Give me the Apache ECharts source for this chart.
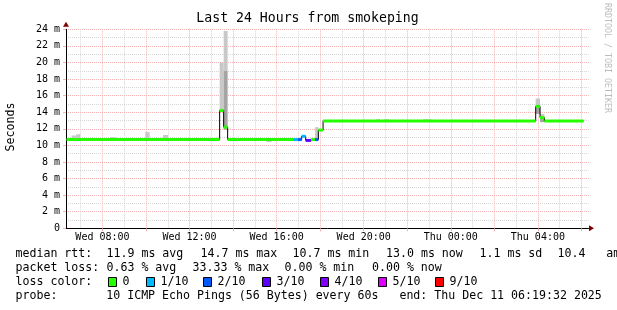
<!DOCTYPE html>
<html>
<head>
<meta charset="utf-8">
<script src="https://cdn.jsdelivr.net/npm/echarts@6/dist/echarts.min.js"></script>
<style>html,body{margin:0;padding:0;background:#fff}#c{width:617px;height:310px}</style>
</head>
<body>
<div id="c"></div>
<script>
// ---------------- data ----------------
const titleText = 'Last 24 Hours from smokeping';
const yAxisTitle = 'Seconds';
const watermark = 'RRDTOOL / TOBI OETIKER';
const axisStart = 'Wed 06:19:32';
const axisEnd = 'Thu 06:19:32';
const xLabelTimes = ['Wed 08:00', 'Wed 12:00', 'Wed 16:00', 'Wed 20:00', 'Thu 00:00', 'Thu 04:00'];
const yTickValues = [0, 2, 4, 6, 8, 10, 12, 14, 16, 18, 20, 22, 24];
const yTickLabels = ['0', '2 m', '4 m', '6 m', '8 m', '10 m', '12 m', '14 m', '16 m', '18 m', '20 m', '22 m', '24 m'];

// median rtt (ms), step segments: start time, value, loss bucket index
const medianStart = ['Wed 06:21', 'Wed 13:23', 'Wed 13:34', 'Wed 13:45', 'Wed 16:46', 'Wed 16:59', 'Wed 17:09', 'Wed 17:20', 'Wed 17:35', 'Wed 17:46', 'Wed 17:55', 'Wed 18:08', 'Thu 03:54', 'Thu 04:06', 'Thu 04:18'];
const medianEnd = 'Thu 06:06';
const medianValue = [10.7, 14.2, 12.2, 10.7, 10.7, 10.7, 11.1, 10.6, 10.7, 10.7, 11.85, 12.95, 14.7, 13.35, 12.95];
const medianLoss = [0, 0, 0, 0, 1, 2, 1, 3, 0, 2, 0, 0, 0, 0, 0];

// smoke (ping spread) blocks
const smokeStart = ['Wed 06:35', 'Wed 06:48', 'Wed 08:21', 'Wed 09:58', 'Wed 10:47', 'Wed 13:23', 'Wed 13:34', 'Wed 13:34', 'Wed 15:32', 'Wed 17:46', 'Wed 20:34', 'Wed 20:56', 'Wed 22:44', 'Thu 03:54', 'Thu 03:54', 'Thu 04:06', 'Thu 04:06'];
const smokeEnd   = ['Wed 06:48', 'Wed 06:59', 'Wed 08:37', 'Wed 10:10', 'Wed 11:01', 'Wed 13:34', 'Wed 13:45', 'Wed 13:45', 'Wed 15:46', 'Wed 17:55', 'Wed 20:45', 'Wed 21:10', 'Wed 23:07', 'Thu 04:06', 'Thu 04:06', 'Thu 04:18', 'Thu 04:18'];
const smokeLow   = [10.7, 10.7, 10.8, 10.7, 10.7, 14.2, 19.0, 11.9, 10.4, 10.7, 12.95, 12.95, 12.95, 14.7, 13.8, 13.35, 12.8];
const smokeHigh  = [11.2, 11.35, 11.0, 11.6, 11.25, 20.0, 23.8, 19.0, 10.7, 12.2, 13.15, 13.15, 13.15, 15.65, 14.7, 13.8, 13.35];
const smokeDark  = [0, 0, 0, 0, 0, 0, 0, 1, 0, 0, 0, 0, 0, 0, 1, 0, 1];

const lossLabels = ['0', '1/10', '2/10', '3/10', '4/10', '5/10', '9/10'];
const lossColors = ['#26ff00', '#00b8ff', '#0059ff', '#5e00ff', '#7e00ff', '#dd00ff', '#ff0000'];

const legendRtt = [['median rtt:', 16], ['11.9 ms avg', 107], ['14.7 ms max', 201], ['10.7 ms min', 293], ['13.0 ms now', 386.5], ['1.1 ms sd', 480], ['10.4   am/s', 558]];
const legendLoss = [['packet loss:', 16], ['0.63 % avg', 107], ['33.33 % max', 193], ['0.00 % min', 285], ['0.00 % now', 372.5]];
const legendLossColorTitle = 'loss color:';
const lossLegendX = [108, 146, 203, 262, 320, 378, 435];
const legendProbe = 'probe:       10 ICMP Echo Pings (56 Bytes) every 60s   end: Thu Dec 11 06:19:32 2025';

// ---------------- helpers ----------------
const MONO = '"DejaVu Sans Mono", monospace';
function hrs(s) {
  const parts = s.split(' ');
  const t = parts[1].split(':').map(Number);
  return (parts[0] === 'Thu' ? 24 : 0) + t[0] + t[1] / 60 + (t[2] || 0) / 3600;
}
const xMin = hrs(axisStart), xMax = hrs(axisEnd);
const minorHours = [], majorHours = [];
for (let h = Math.ceil(xMin); h <= xMax; h++) (h % 2 ? minorHours : majorHours).push(h);
const labelHours = xLabelTimes.map(hrs);

const smokeData = smokeStart.map((s, i) => [hrs(s), hrs(smokeEnd[i]), smokeLow[i], smokeHigh[i], smokeDark[i]]);
const bandData = medianStart.map((s, i) => [hrs(s), i + 1 < medianStart.length ? hrs(medianStart[i + 1]) : hrs(medianEnd), medianValue[i], medianLoss[i]]);
const lineData = medianStart.map((s, i) => [hrs(s), medianValue[i]]);
lineData.push([hrs(medianEnd), medianValue[medianValue.length - 1]]);

const GRAY = '#d6d6d6', RED = '#f5b2b2';

const graphics = [
  { type: 'text', x: 307.5, y: 18.7, z: 100, style: { text: titleText, font: '13.2px ' + MONO, fill: '#000', align: 'center', verticalAlign: 'middle' } },
  { type: 'text', x: 11, y: 127, rotation: Math.PI / 2, z: 100, style: { text: yAxisTitle, font: '11.6px ' + MONO, fill: '#000', align: 'center', verticalAlign: 'middle' } },
  { type: 'text', x: 607.5, y: 58, rotation: -Math.PI / 2, z: 100, style: { text: watermark, font: '8.3px ' + MONO, fill: '#bdbdbd', align: 'center', verticalAlign: 'middle' } }
];
legendRtt.forEach(p => graphics.push({ type: 'text', x: p[1] - 0.5, y: 254.2, z: 100, style: { text: p[0], font: '11.6px ' + MONO, fill: '#000', align: 'left', verticalAlign: 'middle' } }));
legendLoss.forEach(p => graphics.push({ type: 'text', x: p[1] - 0.5, y: 268.1, z: 100, style: { text: p[0], font: '11.6px ' + MONO, fill: '#000', align: 'left', verticalAlign: 'middle' } }));
graphics.push({ type: 'text', x: 15.5, y: 281.8, z: 100, style: { text: legendLossColorTitle, font: '11.6px ' + MONO, fill: '#000', align: 'left', verticalAlign: 'middle' } });
lossLabels.forEach((lab, i) => {
  graphics.push({ type: 'rect', x: lossLegendX[i] + 0.5, y: 277.5, z: 100, shape: { x: 0, y: 0, width: 8, height: 9 }, style: { fill: lossColors[i], stroke: '#000', lineWidth: 1 } });
  graphics.push({ type: 'text', x: lossLegendX[i] + 14.5, y: 281.8, z: 100, style: { text: lab, font: '11.6px ' + MONO, fill: '#000', align: 'left', verticalAlign: 'middle' } });
});
graphics.push({ type: 'text', x: 15.5, y: 295.8, z: 100, style: { text: legendProbe, font: '11.6px ' + MONO, fill: '#000', align: 'left', verticalAlign: 'middle' } });

const chart = echarts.init(document.getElementById('c'), null, { renderer: 'canvas', width: 617, height: 310 });
chart.setOption({
  animation: false,
  backgroundColor: '#fff',
  grid: { left: 66, right: 28.5, top: 29.3, bottom: 81.7, containLabel: false },
  xAxis: [
    {
      type: 'value', min: xMin, max: xMax, position: 'bottom',
      axisLine: { show: true, onZero: false, lineStyle: { color: '#000', width: 1 } },
      axisTick: { show: false, customValues: minorHours },
      axisLabel: { show: false },
      splitLine: { show: true, lineStyle: { color: GRAY, type: [1, 1], width: 1 } }
    },
    {
      type: 'value', min: xMin, max: xMax, position: 'bottom',
      axisLine: { show: true, onZero: false, symbol: ['none', 'triangle'], symbolSize: [6, 5], symbolOffset: [0, 3], lineStyle: { color: '#7f0000', width: 0 } },
      axisTick: { show: true, customValues: majorHours, length: 3, lineStyle: { color: RED } },
      axisLabel: {
        show: true, customValues: labelHours, margin: 4,
        fontFamily: MONO, fontSize: 10, color: '#000',
        formatter: v => { const i = labelHours.findIndex(h => Math.abs(h - v) < 1e-6); return i >= 0 ? xLabelTimes[i] : ''; }
      },
      splitLine: { show: true, lineStyle: { color: RED, type: [1, 1], width: 1 } }
    }
  ],
  yAxis: [
    {
      type: 'value', min: 0, max: 24, interval: 1, position: 'left',
      axisLine: { show: true, onZero: false, lineStyle: { color: '#000', width: 1 } },
      axisTick: { show: false }, axisLabel: { show: false },
      splitLine: { show: true, showMinLine: false, lineStyle: { color: GRAY, type: [1, 1], width: 1 } }
    },
    {
      type: 'value', min: 0, max: 24, interval: 2, position: 'left',
      axisLine: { show: true, onZero: false, symbol: ['none', 'triangle'], symbolSize: [6, 5], symbolOffset: [0, 5], lineStyle: { color: '#7f0000', width: 0 } },
      axisTick: { show: true, length: 3, lineStyle: { color: RED } },
      axisLabel: {
        margin: 6, fontFamily: MONO, fontSize: 10, color: '#000',
        formatter: v => { const i = yTickValues.indexOf(v); return i >= 0 ? yTickLabels[i] : ''; }
      },
      splitLine: { show: true, showMinLine: false, lineStyle: { color: RED, type: [1, 1], width: 1 } }
    }
  ],
  series: [
    {
      type: 'custom', name: 'smoke', xAxisIndex: 0, yAxisIndex: 0, silent: true, z: 2,
      data: smokeData,
      renderItem: (params, api) => {
        const p0 = api.coord([api.value(0), api.value(3)]);
        const p1 = api.coord([api.value(1), api.value(2)]);
        return { type: 'rect', shape: { x: p0[0], y: p0[1], width: p1[0] - p0[0], height: p1[1] - p0[1] }, style: { fill: api.value(4) ? '#a4a4a4' : '#c8c8c8' } };
      }
    },
    {
      type: 'line', name: 'median', xAxisIndex: 0, yAxisIndex: 0, silent: true, z: 3,
      data: lineData, step: 'end', showSymbol: false, symbol: 'none',
      lineStyle: { color: '#000', width: 1 }
    },
    {
      type: 'custom', name: 'loss', xAxisIndex: 0, yAxisIndex: 0, silent: true, z: 4,
      data: bandData,
      renderItem: (params, api) => {
        const p0 = api.coord([api.value(0), api.value(2)]);
        const p1 = api.coord([api.value(1), api.value(2)]);
        return { type: 'rect', shape: { x: p0[0], y: p0[1] - 1.5, width: p1[0] - p0[0], height: 3 }, style: { fill: lossColors[api.value(3)] } };
      }
    }
  ],
  graphic: graphics
});
</script>
</body>
</html>
